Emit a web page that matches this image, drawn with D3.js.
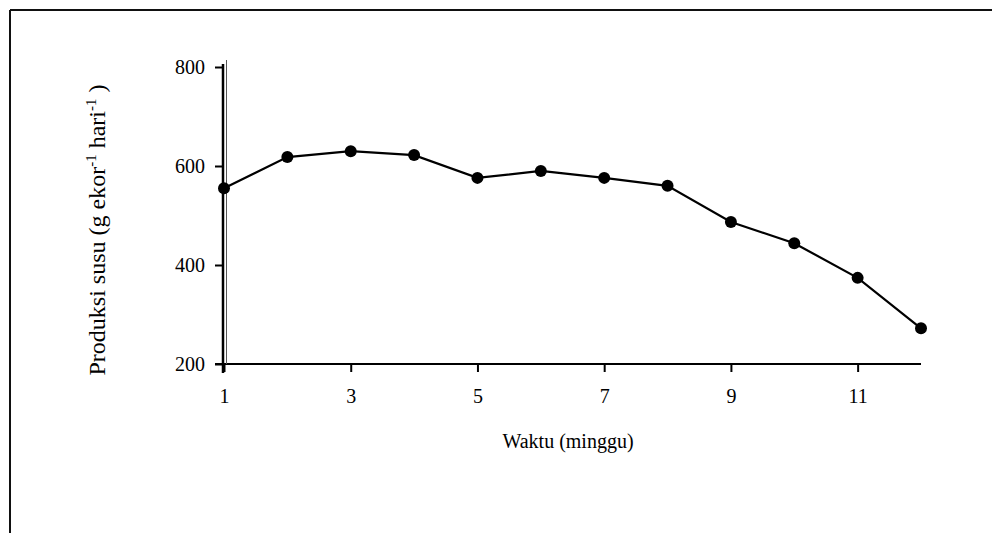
<!DOCTYPE html>
<html><head><meta charset="utf-8">
<script src="https://cdn.jsdelivr.net/npm/d3@7"></script>
<style>html,body{margin:0;padding:0;background:#fff;}svg{display:block;}</style>
</head><body>
<svg id="c" width="992" height="533"></svg>
<script>
const weeks = [1,2,3,4,5,6,7,8,9,10,11,12];
const milk = [555,618,630,622,576,590,576,560,487,444,374,272];
const xTicks = [1,3,5,7,9,11];
const yTicks = [200,400,600,800];
const xTitle = "Waktu (minggu)";

const svg = d3.select("#c");
const font = "'Liberation Serif','Times New Roman',serif";

// frame (top and left)
svg.append("line").attr("x1",10).attr("y1",10).attr("x2",992).attr("y2",10).attr("stroke","#111").attr("stroke-width",2);
svg.append("line").attr("x1",10).attr("y1",10).attr("x2",10).attr("y2",533).attr("stroke","#111").attr("stroke-width",2);

const x = d3.scaleLinear().domain([1,12]).range([224,921]);
const y = d3.scaleLinear().domain([200,800]).range([364,67]);

// x axis
const xa = svg.append("g").attr("transform","translate(0,364)")
  .call(d3.axisBottom(x).tickValues(xTicks).tickSize(8).tickPadding(17).tickFormat(d3.format("d")));
xa.select(".domain").attr("d",`M${x(1)-9},0H${x(12)}`).attr("stroke","#000").attr("stroke-width",2);
xa.selectAll(".tick line").attr("stroke","#000").attr("stroke-width",2);
xa.selectAll("text").attr("font-family",font).attr("font-size",20).attr("fill","#000");

// y axis
const ya = svg.append("g").attr("transform","translate(223,0)")
  .call(d3.axisLeft(y).tickValues(yTicks).tickSize(8).tickPadding(10).tickFormat(d3.format("d")));
ya.select(".domain").attr("d",`M0,${y(800)-3}V${y(200)+9}`).attr("stroke","#000").attr("stroke-width",2.5);
ya.selectAll(".tick line").attr("stroke","#000").attr("stroke-width",2);
ya.selectAll("text").attr("font-family",font).attr("font-size",20).attr("fill","#000");
// thin secondary line next to y axis
svg.append("line").attr("x1",226.5).attr("x2",226.5).attr("y1",y(800)-7).attr("y2",y(200))
  .attr("stroke","#555").attr("stroke-width",1);

// line
svg.append("path").datum(weeks.map((w,i)=>[w,milk[i]]))
  .attr("d",d3.line().x(d=>x(d[0])).y(d=>y(d[1])))
  .attr("fill","none").attr("stroke","#000").attr("stroke-width",2.2);
svg.selectAll("circle.p").data(weeks.map((w,i)=>[w,milk[i]])).join("circle")
  .attr("class","p").attr("cx",d=>x(d[0])).attr("cy",d=>y(d[1])).attr("r",6).attr("fill","#000");

// titles
svg.append("text").attr("x",568).attr("y",448).attr("text-anchor","middle")
  .attr("font-family",font).attr("font-size",20).attr("fill","#000").text(xTitle);

const yt = svg.append("text").attr("transform","translate(105,230) rotate(-90)")
  .attr("text-anchor","middle").attr("font-family",font).attr("font-size",24).attr("fill","#000");
yt.append("tspan").text("Produksi susu (g ekor");
yt.append("tspan").attr("font-size",15).attr("dy",-9).text("-1");
yt.append("tspan").attr("dy",9).text(" hari");
yt.append("tspan").attr("font-size",15).attr("dy",-9).text("-1");
yt.append("tspan").attr("dy",9).text(" )");
</script>
</body></html>
